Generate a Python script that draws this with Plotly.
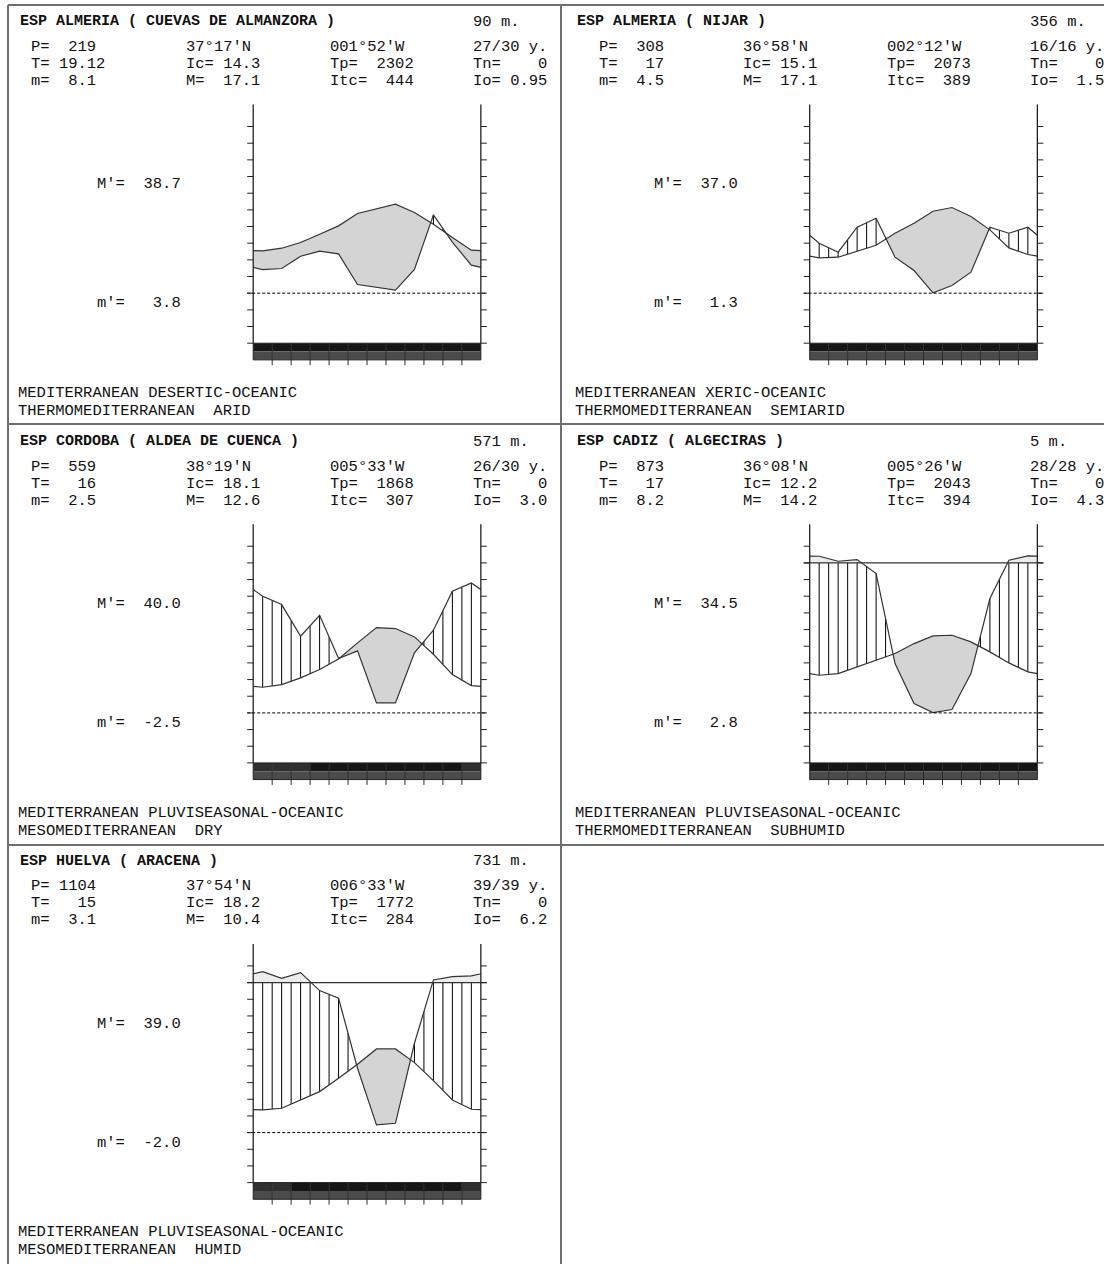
import numpy as np
import plotly.graph_objects as go

W, H = 1104, 1264

# ---------------- data (T in degC, P in mm, monthly Jan..Dec) ----------------
temp_cuevas = [12.7, 13.5, 15.2, 17.7, 20.2, 23.9, 25.2, 26.7, 24.2, 20.7, 16.7, 12.9]
prec_cuevas = [14.2, 14.8, 22.2, 25.2, 23.6, 5.2, 3.6, 1.8, 14.2, 47.0, 30.6, 16.8]

temp_nijar = [10.6, 10.8, 12.6, 14.4, 18.0, 21.0, 24.6, 25.7, 23.0, 19.0, 13.6, 11.6]
prec_nijar = [30.0, 24.6, 39.6, 45.0, 21.6, 13.6, 0.2, 4.6, 12.6, 39.6, 36.0, 39.6]

temp_cordoba = [7.7, 8.5, 10.5, 13.0, 16.2, 21.0, 25.6, 25.3, 22.8, 17.6, 11.5, 8.2]
prec_cordoba = [70.0, 65.0, 46.0, 58.6, 32.6, 37.2, 6.0, 6.0, 36.0, 49.6, 73.0, 78.0]

temp_cadiz = [11.3, 11.8, 13.8, 15.6, 17.8, 20.8, 23.1, 23.3, 21.3, 18.3, 15.0, 12.3]
prec_cadiz = [130.0, 100.0, 110.0, 83.6, 29.6, 5.6, 0.2, 2.0, 23.6, 68.6, 106.0, 132.0]

temp_aracena = [6.8, 7.3, 9.8, 12.3, 16.3, 20.5, 25.1, 25.1, 21.0, 15.6, 9.8, 7.0]
prec_aracena = [156.0, 116.0, 150.0, 85.2, 80.6, 38.6, 4.6, 5.6, 53.6, 106.0, 126.0, 130.0]

# months (0-based) with lighter cell in the upper bar row
frost_cuevas = []
frost_nijar = []
frost_cordoba = [0, 1, 2, 11]
frost_cadiz = []
frost_aracena = [0, 1, 11]

titles = ["ESP ALMERIA ( CUEVAS DE ALMANZORA )", "ESP ALMERIA ( NIJAR )",
          "ESP CORDOBA ( ALDEA DE CUENCA )", "ESP CADIZ ( ALGECIRAS )",
          "ESP HUELVA ( ARACENA )"]
altitudes = ["90 m.", "356 m.", "571 m.", "5 m.", "731 m."]

info_cuevas = [["P=  219", "37°17'N", "001°52'W", "27/30 y."],
               ["T= 19.12", "Ic= 14.3", "Tp=  2302", "Tn=    0"],
               ["m=  8.1", "M=  17.1", "Itc=  444", "Io= 0.95"]]
info_nijar = [["P=  308", "36°58'N", "002°12'W", "16/16 y."],
              ["T=   17", "Ic= 15.1", "Tp=  2073", "Tn=    0"],
              ["m=  4.5", "M=  17.1", "Itc=  389", "Io=  1.5"]]
info_cordoba = [["P=  559", "38°19'N", "005°33'W", "26/30 y."],
                ["T=   16", "Ic= 18.1", "Tp=  1868", "Tn=    0"],
                ["m=  2.5", "M=  12.6", "Itc=  307", "Io=  3.0"]]
info_cadiz = [["P=  873", "36°08'N", "005°26'W", "28/28 y."],
              ["T=   17", "Ic= 12.2", "Tp=  2043", "Tn=    0"],
              ["m=  8.2", "M=  14.2", "Itc=  394", "Io=  4.3"]]
info_aracena = [["P= 1104", "37°54'N", "006°33'W", "39/39 y."],
                ["T=   15", "Ic= 18.2", "Tp=  1772", "Tn=    0"],
                ["m=  3.1", "M=  10.4", "Itc=  284", "Io=  6.2"]]

abs_max = ["M'=  38.7", "M'=  37.0", "M'=  40.0", "M'=  34.5", "M'=  39.0"]
abs_min = ["m'=   3.8", "m'=   1.3", "m'=  -2.5", "m'=   2.8", "m'=  -2.0"]

bioclim_1 = ["MEDITERRANEAN DESERTIC-OCEANIC", "MEDITERRANEAN XERIC-OCEANIC",
             "MEDITERRANEAN PLUVISEASONAL-OCEANIC", "MEDITERRANEAN PLUVISEASONAL-OCEANIC",
             "MEDITERRANEAN PLUVISEASONAL-OCEANIC"]
bioclim_2 = ["THERMOMEDITERRANEAN  ARID", "THERMOMEDITERRANEAN  SEMIARID",
             "MESOMEDITERRANEAN  DRY", "THERMOMEDITERRANEAN  SUBHUMID",
             "MESOMEDITERRANEAN  HUMID"]

temps = [temp_cuevas, temp_nijar, temp_cordoba, temp_cadiz, temp_aracena]
precs = [prec_cuevas, prec_nijar, prec_cordoba, prec_cadiz, prec_aracena]
frosts = [frost_cuevas, frost_nijar, frost_cordoba, frost_cadiz, frost_aracena]
infos = [info_cuevas, info_nijar, info_cordoba, info_cadiz, info_aracena]

# ---------------- layout geometry (pixels) ----------------
COL_DX = 556.5
ROW_DY = 419.7
PLOT_LEFT = 253.2
ZERO_Y = 293.2
MW = 18.97          # px per month
DEG = 50.0 / 15.0   # px per degC
YMIN, YMAX = -23.0, 57.0
XMIN, XMAX = -0.5, 12.5
TICK = 6.0 / MW
AXIS_TOP = 56.6

FONT = "Liberation Mono"
LINE_C = "#333333"


def pdiag(p):
    return p / 2.0 if p <= 90 else 45.0 + (p - 90.0) / 20.0


def nb(s):
    return s.replace(" ", "\u00a0")


fig = go.Figure()
shapes = []
annotations = []


def ann(x, y, text, size=15.5, bold=False):
    t = nb(text)
    if bold:
        t = "<b>" + t + "</b>"
    annotations.append(dict(x=(x - 2) / W, y=1 - y / H, xref="paper", yref="paper",
                            text=t, showarrow=False, xanchor="left", yanchor="middle",
                            font=dict(family=FONT, size=size, color="#111111")))


positions = [(0, 0), (1, 0), (0, 1), (1, 1), (0, 2)]

for i in range(5):
    col, row = positions[i]
    dx = col * COL_DX
    dy = row * ROW_DY
    n = i + 1
    xa = "x" if n == 1 else f"x{n}"
    ya = "y" if n == 1 else f"y{n}"
    left = PLOT_LEFT + dx
    zero = ZERO_Y + dy
    xdom = [(left + XMIN * MW) / W, (left + XMAX * MW) / W]
    ydom = [1 - (zero - YMIN * DEG) / H, 1 - (zero - YMAX * DEG) / H]
    axcfg = dict(visible=False, fixedrange=True)
    fig.layout[("xaxis" if n == 1 else f"xaxis{n}")] = dict(domain=xdom, range=[XMIN, XMAX], anchor=ya, **axcfg)
    fig.layout[("yaxis" if n == 1 else f"yaxis{n}")] = dict(domain=ydom, range=[YMIN, YMAX], anchor=xa, **axcfg)

    T = np.array(temps[i], dtype=float)
    P = np.array([pdiag(p) for p in precs[i]])
    xs = np.concatenate([[0.0], np.arange(12) + 0.5, [12.0]])
    tv = np.concatenate([[(T[0] + T[-1]) / 2], T, [(T[0] + T[-1]) / 2]])
    pv = np.concatenate([[(P[0] + P[-1]) / 2], P, [(P[0] + P[-1]) / 2]])

    X = np.linspace(0, 12, 2401)
    Tc = np.interp(X, xs, tv)
    Pc = np.interp(X, xs, pv)

    common = dict(xaxis=xa, yaxis=ya, mode="lines", hoverinfo="skip", showlegend=False)
    # dry season (grey) between P and T where T > P
    fig.add_trace(go.Scatter(x=X, y=np.minimum(Tc, Pc), line=dict(width=0), **common))
    fig.add_trace(go.Scatter(x=X, y=Tc, fill="tonexty", fillcolor="#d4d4d4", line=dict(width=0), **common))
    # compressed part above 100-line
    high = pv.max() > 45
    if high:
        fig.add_trace(go.Scatter(x=X, y=np.full_like(X, 45.0), line=dict(width=0), **common))
        fig.add_trace(go.Scatter(x=X, y=np.maximum(Pc, 45.0), fill="tonexty", fillcolor="#ececec",
                                 line=dict(width=0), **common))
    # humid season hatching
    hx, hy = [], []
    for k in range(1, 24):
        xx = k * 0.5
        t = np.interp(xx, xs, tv)
        p = np.interp(xx, xs, pv)
        if p > t:
            hx += [xx, xx, None]
            hy += [t, min(p, 45.0), None]
    if hx:
        fig.add_trace(go.Scatter(x=hx, y=hy, line=dict(color="#000000", width=1), **common))
    # curves
    fig.add_trace(go.Scatter(x=xs, y=tv, line=dict(color=LINE_C, width=1.2), **common))
    fig.add_trace(go.Scatter(x=xs, y=pv, line=dict(color=LINE_C, width=1.2), **common))

    def ln(x0, y0, x1, y1, color=LINE_C, width=1, dash=None):
        d = dict(type="line", xref=xa, yref=ya, x0=x0, y0=y0, x1=x1, y1=y1,
                 line=dict(color=color, width=width))
        if dash:
            d["line"]["dash"] = dash
        shapes.append(d)

    # zero line (dashed) and 100 line
    ln(-TICK, 0, 12 + TICK, 0, color="#000000", dash="3px,2px")
    if high:
        ln(-TICK, 45, 12 + TICK, 45, color="#333333", width=1.2)
    # axes
    ln(0, -15, 0, AXIS_TOP, color="#222222", width=1.3)
    ln(12, -15, 12, AXIS_TOP, color="#222222", width=1.3)
    for v in range(-15, 55, 5):
        ln(-TICK, v, 0, v, color="#222222")
        ln(12, v, 12 + TICK, v, color="#222222")
    # bars
    for m in range(12):
        shapes.append(dict(type="rect", xref=xa, yref=ya, x0=m, x1=m + 1, y0=-17.5, y1=-15,
                           fillcolor="#303030" if m in frosts[i] else "#161616",
                           line=dict(width=0)))
        shapes.append(dict(type="rect", xref=xa, yref=ya, x0=m, x1=m + 1, y0=-20, y1=-17.5,
                           fillcolor="#4b4b4b", line=dict(width=0)))
    for m in range(1, 12):
        ln(m, -15, m, -21.6, color="#2c2c2c")
    shapes.append(dict(type="rect", xref=xa, yref=ya, x0=0, x1=12, y0=-20, y1=-15,
                       line=dict(color="#222222", width=1), fillcolor="rgba(0,0,0,0)"))

    # texts
    ann(20 + dx, 22 + dy, titles[i], size=15, bold=True)
    ann(473 + dx, 22 + dy, altitudes[i])
    col1 = 31 if col == 0 else 31 + COL_DX + 11
    for r, rowtxt in enumerate(infos[i]):
        for c, txt in enumerate(rowtxt):
            ann([col1, 186 + dx, 330 + dx, 473 + dx][c], [47, 64, 81][r] + dy, txt)
    ann(97 + dx, zero - 109, abs_max[i])
    ann(97 + dx, zero + 10, abs_min[i])
    ann(18 + dx, 393 + dy, bioclim_1[i])
    ann(18 + dx, 411 + dy, bioclim_2[i])

# panel borders (paper)
BC = "#6e6e6e"


def pline(x0, y0, x1, y1):
    shapes.append(dict(type="line", xref="paper", yref="paper",
                       x0=x0 / W, y0=1 - y0 / H, x1=x1 / W, y1=1 - y1 / H,
                       line=dict(color=BC, width=2)))


pline(8, 5, W, 5)
pline(8, 5, 8, H)
pline(561, 5, 561, H)
pline(8, 424, W, 424)
pline(8, 845, W, 845)

fig.update_layout(width=W, height=H, margin=dict(l=0, r=0, t=0, b=0), autosize=False,
                  paper_bgcolor="white", plot_bgcolor="rgba(0,0,0,0)",
                  shapes=shapes, annotations=annotations, showlegend=False)

fig.write_html("out.html", config={"displayModeBar": False},
               post_script="document.body.style.margin='0';document.body.style.overflow='hidden';")
